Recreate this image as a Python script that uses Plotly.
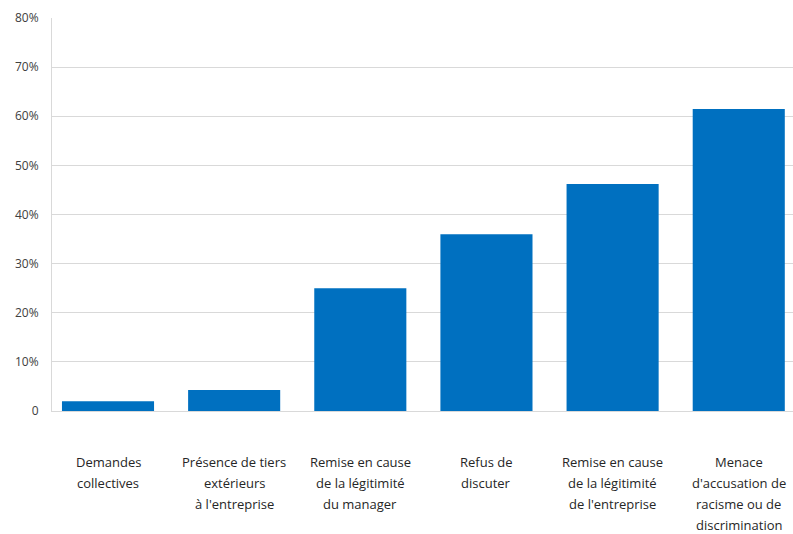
import plotly.graph_objects as go

categories = [
    "Demandes<br>collectives",
    "Présence de tiers<br>extérieurs<br>à l'entreprise",
    "Remise en cause<br>de la légitimité<br>du manager",
    "Refus de<br>discuter",
    "Remise en cause<br>de la légitimité<br>de l'entreprise",
    "Menace<br>d'accusation de<br>racisme ou de<br>discrimination",
]
values = [2.0, 4.3, 25.0, 36.0, 46.2, 61.5]
ytick_vals = [0, 10, 20, 30, 40, 50, 60, 70, 80]
ytick_text = ["0", "10%", "20%", "30%", "40%", "50%", "60%", "70%", "80%"]

xs = list(range(len(categories)))

fig = go.Figure()
fig.add_trace(go.Bar(
    x=xs, y=values, width=0.73,
    marker=dict(color="#0070C0", line=dict(width=0)),
    hoverinfo="skip",
))

annotations = []
for i, lab in enumerate(categories):
    for j, line in enumerate(lab.split("<br>")):
        annotations.append(dict(
            x=i, y=0, xref="x", yref="paper", yanchor="middle", xanchor="center",
            yshift=-(51 + j * 21.0), text=line, showarrow=False,
            font=dict(family="Open Sans", size=13, color="#262626"),
        ))

fig.update_layout(
    width=793, height=534,
    margin=dict(l=52, r=0, t=18, b=123),
    plot_bgcolor="white", paper_bgcolor="white",
    showlegend=False,
    annotations=annotations,
    xaxis=dict(range=[-0.444, 5.43], showticklabels=False, showgrid=False,
               zeroline=False, showline=True, linecolor="#d9d9d9", linewidth=1),
    yaxis=dict(range=[0, 80], tickvals=ytick_vals, ticktext=ytick_text,
               showgrid=True, gridcolor="#d9d9d9", gridwidth=1,
               zeroline=False, showline=True, linecolor="#d9d9d9", linewidth=1,
               ticks="", ticklabelstandoff=10,
               tickfont=dict(family="Open Sans", size=12, color="#404040")),
)

fig.write_html("out.html")
